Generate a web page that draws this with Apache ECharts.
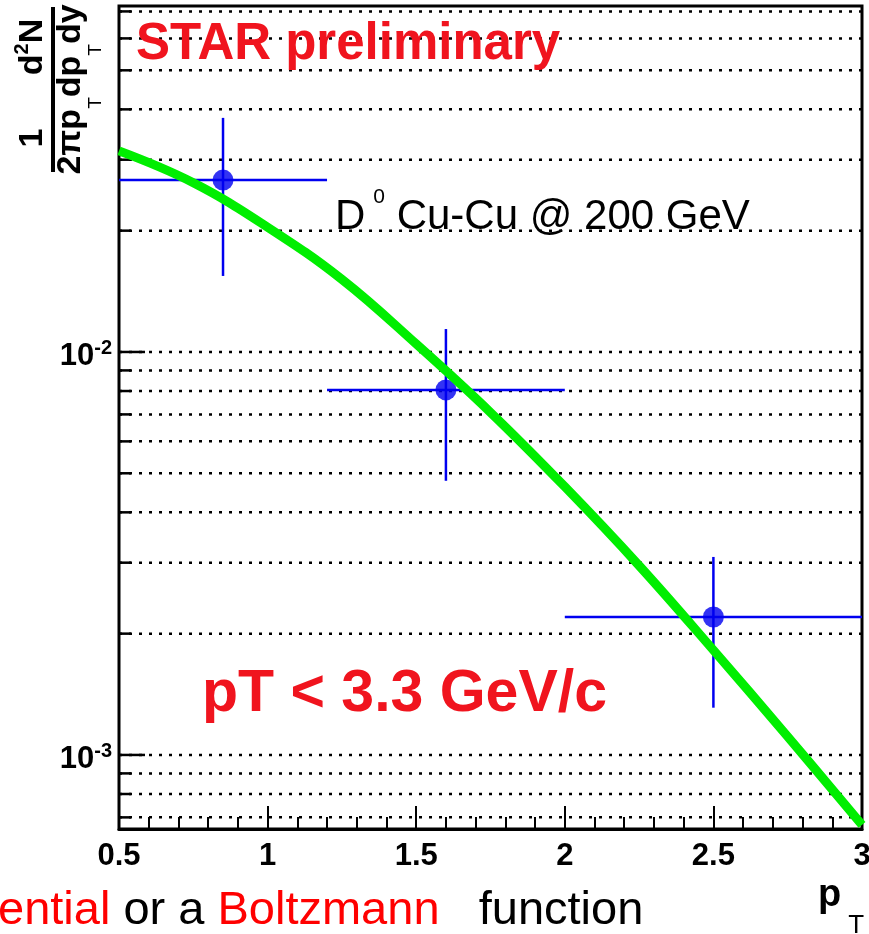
<!DOCTYPE html>
<html>
<head>
<meta charset="utf-8">
<title>D0 Cu-Cu spectrum</title>
<script src="https://cdn.jsdelivr.net/npm/echarts@6/dist/echarts.min.js"></script>
<style>
  html, body { margin: 0; padding: 0; background: #fff; }
  #chart { width: 869px; height: 934px; }
</style>
</head>
<body>
<div id="chart"></div>
<script>
// data points (pT, yield) with horizontal bin and vertical errors
var ptValues = [0.85, 1.6, 2.5];
var yieldValues = [0.0267, 0.00805, 0.0022];
var ptLow = [0.5, 1.2, 2.0];
var ptHigh = [1.2, 2.0, 3.0];
var yieldLow = [0.01544, 0.00479, 0.00131];
var yieldHigh = [0.0381, 0.0114, 0.0031];

// fitted curve
var fitX = [0.5, 0.75, 1.0, 1.25, 1.5, 1.75, 2.0, 2.25, 2.5, 2.75, 3.0];
var fitY = [0.03155, 0.0263, 0.0204, 0.01514, 0.01047, 0.00708, 0.00463, 0.00295, 0.00182, 0.00111, 0.000671];

// axis
var xTickLabels = ['0.5', '1', '1.5', '2', '2.5', '3'];
var yMajor = [0.01, 0.001];
var yGrid = [0.07, 0.06, 0.05, 0.04, 0.03, 0.02, 0.01,
             0.009, 0.008, 0.007, 0.006, 0.005, 0.004, 0.003, 0.002, 0.001,
             0.0009, 0.0008, 0.0007];

var F = "'Liberation Sans', Arial, Helvetica, sans-serif";
var RED = '#f0141e';
var BLUE = '#0000f0';
var X_MIN = 0.5, X_MAX = 3;

var chart = echarts.init(document.getElementById('chart'));

var option = {
    animation: false,
    backgroundColor: '#fff',
    textStyle: { fontFamily: F },
    grid: {
        left: 119, right: 7, top: 6, bottom: 105,
        show: true, borderColor: '#000', borderWidth: 3,
        outerBoundsMode: 'none'
    },
    xAxis: {
        type: 'value', min: X_MIN, max: X_MAX, interval: 0.5,
        axisLine: { show: true, onZero: false, lineStyle: { color: '#000', width: 3 } },
        axisTick: { show: true, inside: true, length: 23, lineStyle: { color: '#000', width: 2 } },
        minorTick: { show: true, splitNumber: 5, length: 12, lineStyle: { color: '#000', width: 2 } },
        splitLine: { show: false },
        axisLabel: {
            fontSize: 31, fontWeight: 'bold', color: '#000', margin: 12, fontFamily: F,
            formatter: function (v) {
                var i = Math.round((v - X_MIN) / 0.5);
                return xTickLabels[i] !== undefined ? xTickLabels[i] : '';
            }
        }
    },
    yAxis: {
        type: 'log', logBase: 10, min: 0.000655, max: 0.0722,
        axisLine: { show: false },
        axisTick: { show: false },
        splitLine: { show: false },
        axisLabel: {
            margin: 7,
            padding: [9, 0, 0, 0],
            formatter: function (v) {
                var e = Math.log10(v);
                var r = Math.round(e);
                if (Math.abs(e - r) > 1e-6) return '';
                return '{b|10}{s|' + r + '}';
            },
            rich: {
                b: { fontSize: 31, fontWeight: 'bold', color: '#000', lineHeight: 35, fontFamily: F },
                s: { fontSize: 20, fontWeight: 'bold', color: '#000', verticalAlign: 'top', fontFamily: F }
            }
        }
    },
    series: [
        {
            // dotted grid lines + left ticks
            type: 'custom',
            silent: true,
            z: 1,
            data: yGrid.map(function (v) { return [X_MIN, v]; }),
            encode: { x: 0, y: 1 },
            renderItem: function (params, api) {
                var v = api.value(1);
                var p = api.coord([X_MIN, v]);
                var q = api.coord([X_MAX, v]);
                var major = yMajor.some(function (m) { return Math.abs(m - v) < 1e-12; });
                return {
                    type: 'group',
                    children: [
                        { type: 'line', shape: { x1: p[0], y1: p[1], x2: q[0], y2: p[1] },
                          style: { stroke: '#000', lineWidth: 2.5, lineDash: [3, 7] } },
                        { type: 'line', shape: { x1: p[0], y1: p[1], x2: p[0] + (major ? 26 : 12), y2: p[1] },
                          style: { stroke: '#000', lineWidth: 2.5 } }
                    ]
                };
            }
        },
        {
            // error bars
            type: 'custom',
            silent: true,
            z: 2,
            data: ptValues.map(function (x, i) {
                return [x, yieldValues[i], ptLow[i], ptHigh[i], yieldLow[i], yieldHigh[i]];
            }),
            encode: { x: 0, y: 1 },
            renderItem: function (params, api) {
                var c = api.coord([api.value(0), api.value(1)]);
                var l = api.coord([api.value(2), api.value(1)]);
                var r = api.coord([api.value(3), api.value(1)]);
                var lo = api.coord([api.value(0), api.value(4)]);
                var hi = api.coord([api.value(0), api.value(5)]);
                var st = { stroke: BLUE, lineWidth: 2.5 };
                return {
                    type: 'group',
                    children: [
                        { type: 'line', shape: { x1: l[0], y1: c[1], x2: r[0], y2: c[1] }, style: st },
                        { type: 'line', shape: { x1: c[0], y1: lo[1], x2: c[0], y2: hi[1] }, style: st }
                    ]
                };
            }
        },
        {
            type: 'scatter',
            z: 3,
            symbol: 'circle',
            symbolSize: 21,
            itemStyle: { color: BLUE },
            data: ptValues.map(function (x, i) { return [x, yieldValues[i]]; })
        },
        {
            type: 'line',
            z: 4,
            smooth: 0.4,
            showSymbol: false,
            symbol: 'none',
            lineStyle: { color: '#00ee00', width: 9 },
            data: fitX.map(function (x, i) { return [x, fitY[i]]; })
        }
    ],
    graphic: [
        { type: 'text', x: 136, y: 45, z: 10,
          style: { text: 'STAR preliminary', fontSize: 51, fontWeight: 'bold', fontFamily: F,
                   fill: RED, align: 'left', verticalAlign: 'middle' } },
        { type: 'text', x: 335, y: 217, z: 10,
          style: { text: '{m|D}{s|0}{m| Cu-Cu @ 200 GeV}', fill: '#000', align: 'left', verticalAlign: 'middle',
                   rich: { m: { fontSize: 42, lineHeight: 60, fontFamily: F },
                           s: { fontSize: 21, verticalAlign: 'top', padding: [0, 0, 0, 8], fontFamily: F } } } },
        { type: 'text', x: 202, y: 695, z: 10,
          style: { text: 'pT < 3.3 GeV/c', fontSize: 59, fontWeight: 'bold', fontFamily: F,
                   fill: RED, align: 'left', verticalAlign: 'middle' } },
        // y axis title, rotated
        { type: 'rect', shape: { x: 51, y: 7, width: 4, height: 165 }, style: { fill: '#000' } },
        { type: 'text', x: 33, y: 138, rotation: Math.PI / 2,
          style: { text: '1', fontSize: 34, fontWeight: 'bold', fontFamily: F, fill: '#000',
                   align: 'center', verticalAlign: 'middle' } },
        { type: 'text', x: 33, y: 47, rotation: Math.PI / 2,
          style: { text: '{m|d}{s|2}{m|N}', fill: '#000', align: 'center', verticalAlign: 'middle',
                   rich: { m: { fontSize: 34, fontWeight: 'bold', lineHeight: 42, fontFamily: F },
                           s: { fontSize: 20, fontWeight: 'bold', verticalAlign: 'top', fontFamily: F } } } },
        { type: 'text', x: 71, y: 89.5, rotation: Math.PI / 2,
          style: { text: '{m|2\u03c0p}{s|T}{m|dp}{s|T}{m|dy}', fill: '#000', align: 'center', verticalAlign: 'middle',
                   rich: { m: { fontSize: 34, fontWeight: 'bold', lineHeight: 69, fontFamily: F },
                           s: { fontSize: 19, verticalAlign: 'bottom', fontFamily: F } } } },
        // x axis title
        { type: 'text', x: 818, y: 896,
          style: { text: '{m|p}{s|T}', fill: '#000', align: 'left', verticalAlign: 'middle',
                   rich: { m: { fontSize: 38, fontWeight: 'bold', lineHeight: 86, fontFamily: F },
                           s: { fontSize: 26, verticalAlign: 'bottom', padding: [0, 0, 0, 7], fontFamily: F } } } },
        // caption cut at the bottom
        { type: 'text', x: -2, y: 911,
          style: { text: '{r|ential} or a {r|Boltzmann}   function', fontSize: 47, fontFamily: F, fill: '#000',
                   align: 'left', verticalAlign: 'middle',
                   rich: { r: { fontSize: 47, fontFamily: F, fill: '#ff0000' } } } }
    ]
};

chart.setOption(option);
window.addEventListener('resize', function () {
    chart.resize();
});
</script>
</body>
</html>
